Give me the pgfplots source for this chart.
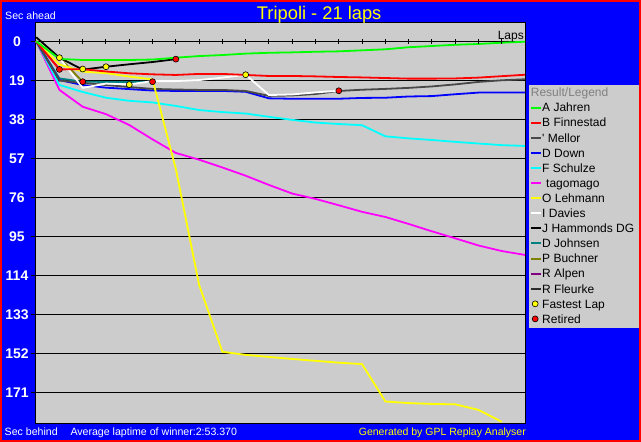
\documentclass[border=0pt]{standalone}
\usepackage{pgfplots}
\pgfplotsset{compat=1.18}
\usepackage{fontspec}
\setmainfont{Liberation Sans}
\definecolor{bgblue}{RGB}{0,0,255}
\definecolor{plotgrey}{RGB}{204,204,204}
\definecolor{mellor}{RGB}{72,72,72}
\definecolor{fleurke}{RGB}{44,44,44}
\definecolor{tealc}{RGB}{0,128,128}
\definecolor{olivec}{RGB}{128,128,0}
\definecolor{purplec}{RGB}{128,0,128}
\definecolor{legendgrey}{RGB}{128,128,128}
\definecolor{ylw}{RGB}{255,255,0}
\definecolor{grn}{RGB}{0,255,0}
\definecolor{cyn}{RGB}{0,255,255}
\definecolor{mag}{RGB}{255,0,255}
\pgfplotsset{
  fastleg/.style={legend image code/.code={\draw[black, line width=0.6bp, fill=ylw] (4bp,1.25bp) circle[radius=3bp];}},
  retleg/.style={legend image code/.code={\draw[black, line width=0.6bp, fill=red] (4bp,1.25bp) circle[radius=3bp];}},
}
\begin{document}
\begin{tikzpicture}
\fill[red] (0bp,0bp) rectangle (641bp,442bp);
\fill[bgblue] (2bp,2bp) rectangle (639bp,440bp);
\fill[plotgrey] (529bp,114bp) rectangle (639bp,357bp);
\begin{axis}[
  at={(35bp,19bp)}, anchor=south west,
  scale only axis, width=490.7bp, height=401bp,
  xmin=-0.05, xmax=21.03, ymin=-9.4, ymax=186, y dir=reverse,
  clip=false,
  axis background/.style={fill=plotgrey},
  axis line style={black, line width=0.8bp},
  xtick=\empty,
  ytick={0,19,38,57,76,95,114,133,152,171},
  ymajorgrids, grid style={black, line width=1bp},
  major tick length=0pt,
  /pgf/number format/assume math mode=true,
  yticklabel style={font=\fontsize{14bp}{16bp}\selectfont\bfseries, text=white, anchor=center, inner sep=0pt, xshift=-18bp},
  every axis plot/.append style={line width=1.8bp, line join=round},
  legend cell align=left,
  legend style={at={(axis description cs:1.00876,0.803)}, anchor=north west, draw=none, fill=none, inner sep=0pt, row sep=0pt, font=\fontsize{12bp}{14bp}\selectfont, nodes={inner sep=0pt, text height=10.6bp, text depth=4.5bp}},
  legend image code/.code={\draw[#1, line width=2bp] (0bp,1.25bp) -- (10bp,1.25bp);},
]
% legend entries
\addlegendimage{grn}\addlegendentry{A Jahren}
\addlegendimage{red}\addlegendentry{B Finnestad}
\addlegendimage{mellor}\addlegendentry{\textquotesingle\ Mellor}
\addlegendimage{blue}\addlegendentry{D Down}
\addlegendimage{cyn}\addlegendentry{F Schulze}
\addlegendimage{mag}\addlegendentry{\hspace*{4bp}tagomago}
\addlegendimage{ylw}\addlegendentry{O Lehmann}
\addlegendimage{white}\addlegendentry{I Davies}
\addlegendimage{black}\addlegendentry{J Hammonds DG}
\addlegendimage{tealc}\addlegendentry{D Johnsen}
\addlegendimage{olivec}\addlegendentry{P Buchner}
\addlegendimage{purplec}\addlegendentry{R Alpen}
\addlegendimage{fleurke}\addlegendentry{R Fleurke}
\addlegendimage{fastleg}\addlegendentry{Fastest Lap}
\addlegendimage{retleg}\addlegendentry{Retired}
% data
\addplot[fleurke, forget plot] coordinates {(0,0) (1,19.5)};
\addplot[purplec, forget plot] coordinates {(0,0) (1,13.7)};
\addplot[olivec, forget plot] coordinates {(0,0) (1,8.0) (2,19.7)};
\addplot[tealc, forget plot] coordinates {(0,0) (1,18.1) (2,19.7) (3,19.8) (4,19.8) (5,19.7)};
\addplot[mag, forget plot] coordinates {(0,0) (1,23.7) (2,31.9) (3,35.5) (4,40.8) (5,47.8) (6,54.4) (7,57.7) (8,61.5) (9,65.5) (10,70.0) (11,74.2) (12,76.8) (13,79.9) (14,83.1) (15,85.6) (16,89.0) (17,92.6) (18,96.0) (19,99.5) (20,102.2) (21,104.1)};
\addplot[cyn, forget plot] coordinates {(0,0) (1,21.3) (2,24.7) (3,27.5) (4,29.0) (5,29.8) (6,31.5) (7,33.5) (8,34.5) (9,35.2) (10,36.8) (11,38.3) (12,39.6) (13,40.3) (14,40.9) (15,46.3) (16,47.3) (17,48.1) (18,49.0) (19,49.8) (20,50.6) (21,51.0)};
\addplot[blue, forget plot] coordinates {(0,0) (1,18.9) (2,21.3) (3,22.6) (4,23.3) (5,24.0) (6,24.2) (7,24.2) (8,24.2) (9,24.6) (10,27.8) (11,28.0) (12,28.0) (13,28.0) (14,27.6) (15,27.5) (16,26.9) (17,26.7) (18,25.8) (19,25.0) (20,25.0) (21,25.0)};
\addplot[mellor, forget plot] coordinates {(0,0) (1,19.1) (2,20.3) (3,21.3) (4,22.3) (5,23.2) (6,23.5) (7,23.7) (8,23.7) (9,24.2) (10,26.6) (11,26.4) (12,25.7) (13,24.2) (14,23.6) (15,23.2) (16,22.7) (17,22.0) (18,21.0) (19,19.8) (20,19.0) (21,18.5)};
\addplot[white, forget plot] coordinates {(0,0) (1,8.0) (2,22.7) (3,20.6) (4,21.0) (5,19.4) (6,19.4) (7,18.9) (8,17.7) (9,16.3) (10,26.2) (11,25.9) (12,24.9) (13,24.1)};
\addplot[ylw, forget plot] coordinates {(0,0) (1,11.3) (2,14.8) (3,15.5) (4,17.2) (5,18.6) (6,62.2) (7,118.7) (8,151.3) (9,152.8) (10,153.8) (11,154.8) (12,155.7) (13,156.6) (14,157.3) (15,175.5) (16,176.3) (17,176.7) (18,176.9) (19,179.6) (20,185.4)};
\addplot[black, forget plot] coordinates {(0,-2) (1,8.0) (2,13.8) (3,12.4) (4,11.2) (5,10.1) (6,8.7)};
\addplot[red, forget plot] coordinates {(0,0) (1,13.7) (2,13.6) (3,14.7) (4,15.6) (5,16.1) (6,16.4) (7,15.9) (8,15.9) (9,16.4) (10,16.9) (11,16.9) (12,17.1) (13,17.4) (14,17.6) (15,17.9) (16,18.2) (17,18.2) (18,18.1) (19,17.7) (20,17.0) (21,16.3)};
\addplot[grn, forget plot] coordinates {(0,0) (1,8.6) (2,9.1) (3,9.1) (4,9.1) (5,8.9) (6,8.0) (7,7.2) (8,6.7) (9,6.0) (10,5.6) (11,5.4) (12,5.1) (13,4.9) (14,4.4) (15,3.9) (16,2.9) (17,2.3) (18,1.7) (19,1.3) (20,0.7) (21,0.2)};
% markers
\addplot[only marks, mark=*, mark size=3bp, mark options={fill=ylw, draw=black, line width=0.6bp}, forget plot] coordinates {(1,8.0) (2,13.5) (3,12.4) (4,21.1) (9,16.3)};
\addplot[only marks, mark=*, mark size=3bp, mark options={fill=red, draw=black, line width=0.6bp}, forget plot] coordinates {(1,13.7) (2,19.7) (5,19.7) (6,8.7) (13,24.1)};
% lap ticks on the zero line and outward stubs of the grid lines
\pgfplotsinvokeforeach{1,...,21}{\draw[black, line width=1bp] (axis cs:#1,0) ++(0bp,-2.7bp) -- ++(0bp,5.4bp);}
\pgfplotsinvokeforeach{0,19,38,57,76,95,114,133,152,171}{\draw[black, line width=1bp] (axis cs:-0.05,#1) -- ++(-4bp,0bp);}
\end{axis}
\node[anchor=base west, inner sep=0pt, text=white, font=\fontsize{10.6bp}{12bp}\selectfont] at (5bp,422.7bp) {Sec ahead};
\node[anchor=base, inner sep=0pt, text=ylw, font=\fontsize{18.3bp}{20bp}\selectfont] at (319.2bp,422bp) {Tripoli - 21 laps};
\node[anchor=base east, inner sep=0pt, text=black, font=\fontsize{12bp}{14bp}\selectfont] at (524bp,402.7bp) {Laps};
\node[anchor=base west, inner sep=0pt, text=legendgrey, font=\fontsize{12bp}{14bp}\selectfont] at (530.7bp,345.3bp) {Result/Legend};
\node[anchor=base west, inner sep=0pt, text=white, font=\fontsize{10.6bp}{12bp}\selectfont] at (4.5bp,6.3bp) {Sec behind};
\node[anchor=base west, inner sep=0pt, text=white, font=\fontsize{10.6bp}{12bp}\selectfont] at (70.3bp,6.3bp) {Average laptime of winner:2:53.370};
\node[anchor=base east, inner sep=0pt, text=ylw, font=\fontsize{10.5bp}{12bp}\selectfont] at (526bp,6.3bp) {Generated by GPL Replay Analyser};
\end{tikzpicture}
\end{document}
